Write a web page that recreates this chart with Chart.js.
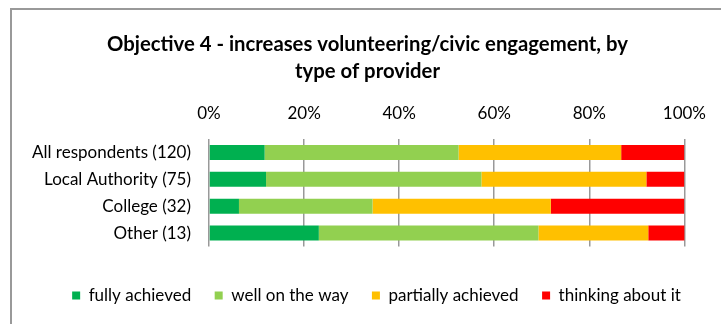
<!DOCTYPE html>
<html>
<head>
<meta charset="utf-8">
<script src="https://cdn.jsdelivr.net/npm/chart.js@4"></script>
<style>
  html, body { margin: 0; padding: 0; background: #fff; }
  #wrap { position: relative; width: 721px; height: 324px; overflow: hidden; }
  #frame { position: absolute; left: 10px; top: 8px; width: 800px; height: 400px;
           border-left: 2px solid #999; border-top: 2px solid #999; }
  canvas { position: absolute; left: 0; top: 0; }
</style>
</head>
<body>
<div id="wrap">
  <div id="frame"></div>
  <canvas id="chart" width="721" height="324"></canvas>
</div>
<script>
// providers and share of answers (%) for each stage
const providers = ['All respondents (120)', 'Local Authority (75)', 'College (32)', 'Other (13)'];
const fullyAchieved = [11.7, 12.0, 6.3, 23.1];
const wellOnTheWay = [40.8, 45.3, 28.1, 46.2];
const partiallyAchieved = [34.2, 34.7, 37.5, 23.1];
const thinkingAboutIt = [13.3, 8.0, 28.1, 7.7];
const tickValues = [0, 20, 40, 60, 80, 100];

const fontFamily = 'Lato, "Open Sans", sans-serif';
Chart.defaults.font.family = fontFamily;
Chart.defaults.color = '#000';

// title and legend sit a bit right of the plot's own centre line
const shiftBlocks = {
    id: 'shiftBlocks',
    afterLayout(chart) {
        chart.titleBlock.left = 50;
        chart.titleBlock.right = 685;
        chart.legend.left = 42;
        chart.legend.right = 711;
    }
};

const ctx = document.getElementById('chart').getContext('2d');
new Chart(ctx, {
    type: 'bar',
    data: {
        labels: providers,
        datasets: [
            { label: 'fully achieved', data: fullyAchieved, backgroundColor: '#00B050' },
            { label: 'well on the way', data: wellOnTheWay, backgroundColor: '#92D050' },
            { label: 'partially achieved', data: partiallyAchieved, backgroundColor: '#FFC000' },
            { label: 'thinking about it', data: thinkingAboutIt, backgroundColor: '#FF0000' }
        ]
    },
    options: {
        indexAxis: 'y',
        responsive: false,
        animation: false,
        layout: { padding: { top: 31, left: 10, right: 36, bottom: 10 } },
        datasets: { bar: { barPercentage: 0.56, categoryPercentage: 1, borderWidth: 0 } },
        scales: {
            x: {
                position: 'top',
                stacked: true,
                min: 0,
                max: 100,
                afterBuildTicks: scale => { scale.ticks = tickValues.map(v => ({ value: v })); },
                afterFit: scale => { scale.height = 54; },
                ticks: { padding: 15, font: { size: 17 }, callback: v => v + '%' },
                grid: { color: '#999', lineWidth: 1.5, drawTicks: false },
                border: { display: false }
            },
            y: {
                stacked: true,
                afterFit: scale => { scale.width = 199; },
                ticks: { padding: 18, autoSkip: false, font: { size: 17 } },
                grid: { display: false, drawTicks: false },
                border: { display: false }
            }
        },
        plugins: {
            title: {
                display: true,
                text: ['Objective 4 - increases volunteering/civic engagement, by', 'type of provider'],
                font: { size: 20.3, weight: 'bold', lineHeight: 1.33 },
                color: '#000',
                padding: { top: 0, bottom: 0 }
            },
            legend: {
                position: 'bottom',
                title: { display: true, text: '', padding: { top: 5, bottom: 0 }, font: { size: 10 } },
                labels: { boxWidth: 8, boxHeight: 8, padding: 23.5, font: { size: 17 }, color: '#000' }
            },
            tooltip: { enabled: false }
        }
    },
    plugins: [shiftBlocks]
});
</script>
</body>
</html>
